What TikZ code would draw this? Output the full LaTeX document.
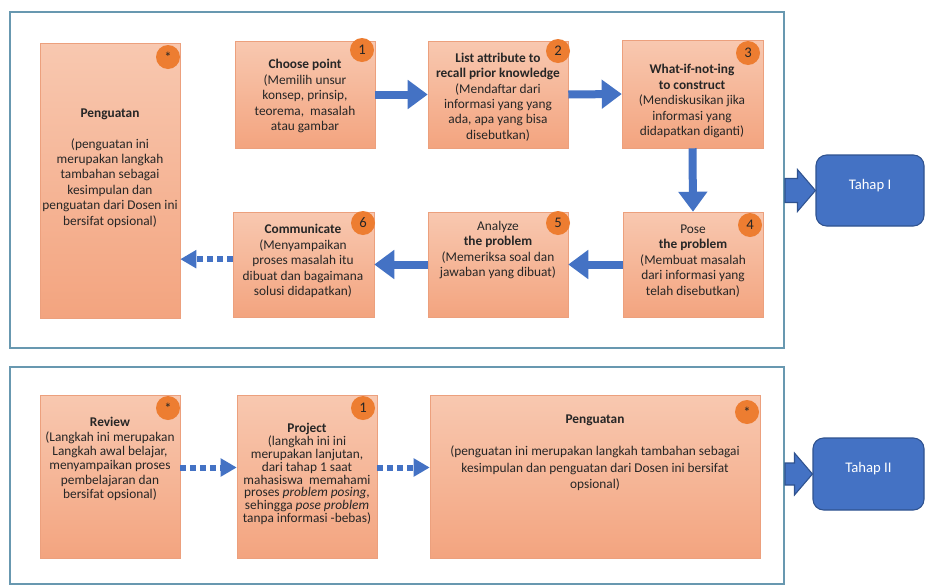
\documentclass[tikz,border=0pt]{standalone}
\usepackage{fontspec}
\setmainfont{Carlito}
\usetikzlibrary{arrows.meta,fit,calc}
\definecolor{framec}{RGB}{104,152,176}
\definecolor{boxtop}{RGB}{248,200,176}
\definecolor{boxbot}{RGB}{243,164,127}
\definecolor{boxedge}{RGB}{236,160,125}
\definecolor{badge}{RGB}{237,125,49}
\definecolor{arrowblue}{RGB}{68,114,196}
\definecolor{tahapedge}{RGB}{47,82,143}
\definecolor{txtc}{RGB}{38,38,38}
\begin{document}
\begin{tikzpicture}[x=0.75pt,y=-0.75pt,
 frame/.style={draw=framec,line width=1.5pt,inner sep=0pt},
 stepbox/.style={draw=boxedge,line width=0.4pt,top color=boxtop,bottom color=boxbot,inner sep=0pt},
 badgenode/.style={circle,fill=badge,minimum size=18pt,inner sep=0pt,text=txtc,font=\fontsize{11}{11}\selectfont},
 txtnode/.style={align=center,text=txtc,font=\fontsize{10}{11.6}\selectfont,inner sep=0pt},
 barrow/.style={draw=arrowblue,line width=6pt,-{Triangle[length=15pt,width=21pt]}},
 darrow/.style={draw=arrowblue,line width=4.5pt,dash pattern=on 4.5pt off 3pt,-{Triangle[length=12pt,width=13pt]}},
 tahap/.style={draw=tahapedge,fill=arrowblue,line width=0.8pt,rounded corners=8pt,inner sep=0pt,text=white,font=\fontsize{11}{13}\selectfont},
 tarrow/.style={draw=tahapedge,fill=arrowblue,line width=0.8pt}
]
\useasboundingbox[fill=white] (0,0) rectangle (926,586);

% frames
\node[frame,fit={(10,12) (784,348)}] (frame1) {};
\node[frame,fit={(10,367) (784,584)}] (frame2) {};

% Tahap I boxes
\node[stepbox,fit={(40,43) (180,318)}] (pen1) {};
\node[stepbox,fit={(235,41) (375,148)}] (b1) {};
\node[stepbox,fit={(428,41) (568,148)}] (b2) {};
\node[stepbox,fit={(622,40) (763,148)}] (b3) {};
\node[stepbox,fit={(233,212) (374,317)}] (b6) {};
\node[stepbox,fit={(428,212) (568,317)}] (b5) {};
\node[stepbox,fit={(623,212) (763,317)}] (b4) {};

% Tahap II boxes
\node[stepbox,fit={(40,395) (180,558)}] (rev) {};
\node[stepbox,fit={(237,395) (377,558)}] (proj) {};
\node[stepbox,fit={(430,395) (760,558)}] (pen2) {};

% texts
\node[txtnode] (tpen1) at (110,168) {\textbf{Penguatan}\\[11.6pt](penguatan ini\\merupakan langkah\\tambahan sebagai\\kesimpulan dan\\penguatan dari Dosen ini\\bersifat opsional)};
\node[txtnode] (tb1) at (305,96) {\textbf{Choose point}\\(Memilih unsur\\konsep, prinsip,\\teorema,\ \ masalah\\atau gambar};
\node[txtnode] (tb2) at (498,97) {\textbf{List attribute to}\\\textbf{recall prior knowledge}\\(Mendaftar dari\\informasi yang yang\\ada, apa yang bisa\\disebutkan)};
\node[txtnode] (tb3) at (692,101) {\textbf{What-if-not-ing}\\\textbf{to construct}\\(Mendiskusikan jika\\informasi yang\\didapatkan diganti)};
\node[txtnode] (tb6) at (303,261) {\textbf{Communicate}\\(Menyampaikan\\proses masalah itu\\dibuat dan bagaimana\\solusi didapatkan)};
\node[txtnode] (tb5) at (498,250) {Analyze\\\textbf{the problem}\\(Memeriksa soal dan\\jawaban yang dibuat)};
\node[txtnode] (tb4) at (693,261) {Pose\\\textbf{the problem}\\(Membuat masalah\\dari informasi yang\\telah disebutkan)};
\node[txtnode,font=\fontsize{10}{10.7}\selectfont] (trev) at (110,459) {\textbf{Review}\\(Langkah ini merupakan\\Langkah awal belajar,\\menyampaikan proses\\pembelajaran dan\\bersifat opsional)};
\node[txtnode,font=\fontsize{10}{9.6}\selectfont] (tproj) at (307,474) {\textbf{Project}\\(langkah ini ini\\merupakan lanjutan,\\dari tahap 1 saat\\mahasiswa\ \ memahami\\proses \textit{problem posing},\\sehingga \textit{pose problem}\\tanpa informasi -bebas)};
\node[txtnode,font=\fontsize{10}{12.4}\selectfont] (tpen2) at (595,453) {\textbf{Penguatan}\\[11.6pt](penguatan ini merupakan langkah tambahan sebagai\\kesimpulan dan penguatan dari Dosen ini bersifat\\opsional)};

% badges
\node[badgenode] (cpen1) at (168,57) {*};
\node[badgenode] (c1) at (362,50) {1};
\node[badgenode] (c2) at (558,51) {2};
\node[badgenode] (c3) at (748,53) {3};
\node[badgenode] (c6) at (363,223) {6};
\node[badgenode] (c5) at (558,223) {5};
\node[badgenode] (c4) at (750,225) {4};
\node[badgenode] (crev) at (168,408) {*};
\node[badgenode] (cproj) at (363,408) {1};
\node[badgenode] (cpen2) at (747,412) {*};

% flow arrows
\draw[barrow] (b1.east) -- (b2.west);
\draw[barrow] (b2.east) -- (b3.west);
\draw[barrow] (b3.south) -- (b4.north);
\draw[barrow] (b4.west) -- (b5.east);
\draw[barrow] (b5.west) -- (b6.east);
\draw[darrow] ([yshift=4pt]b6.west) -- ([yshift=4pt]b6.west -| pen1.east);
\draw[darrow] ([yshift=6.75pt]rev.east) -- ([yshift=6.75pt]proj.west);
\draw[darrow] ([yshift=6.75pt]proj.east) -- ([yshift=6.75pt]proj.east -| pen2.west);

% Tahap boxes
\node[tahap,fit={(816,155) (924,226)}] (tahap1) {Tahap I};
\node[tahap,fit={(813,438) (924,510)}] (tahap2) {Tahap II};

% Tahap block arrows
\coordinate (s1) at (frame1.east |- tahap1.west);
\draw[tarrow] ($(s1)+(0,-12)$) -- ($(tahap1.west)+(-18,-12)$) -- ($(tahap1.west)+(-18,-21)$) -- (tahap1.west) -- ($(tahap1.west)+(-18,21)$) -- ($(tahap1.west)+(-18,12)$) -- ($(s1)+(0,12)$) -- cycle;
\coordinate (s2) at (frame2.east |- tahap2.west);
\draw[tarrow] ($(s2)+(0,-11)$) -- ($(tahap2.west)+(-18,-11)$) -- ($(tahap2.west)+(-18,-21)$) -- (tahap2.west) -- ($(tahap2.west)+(-18,21)$) -- ($(tahap2.west)+(-18,11)$) -- ($(s2)+(0,11)$) -- cycle;
\end{tikzpicture}
\end{document}
